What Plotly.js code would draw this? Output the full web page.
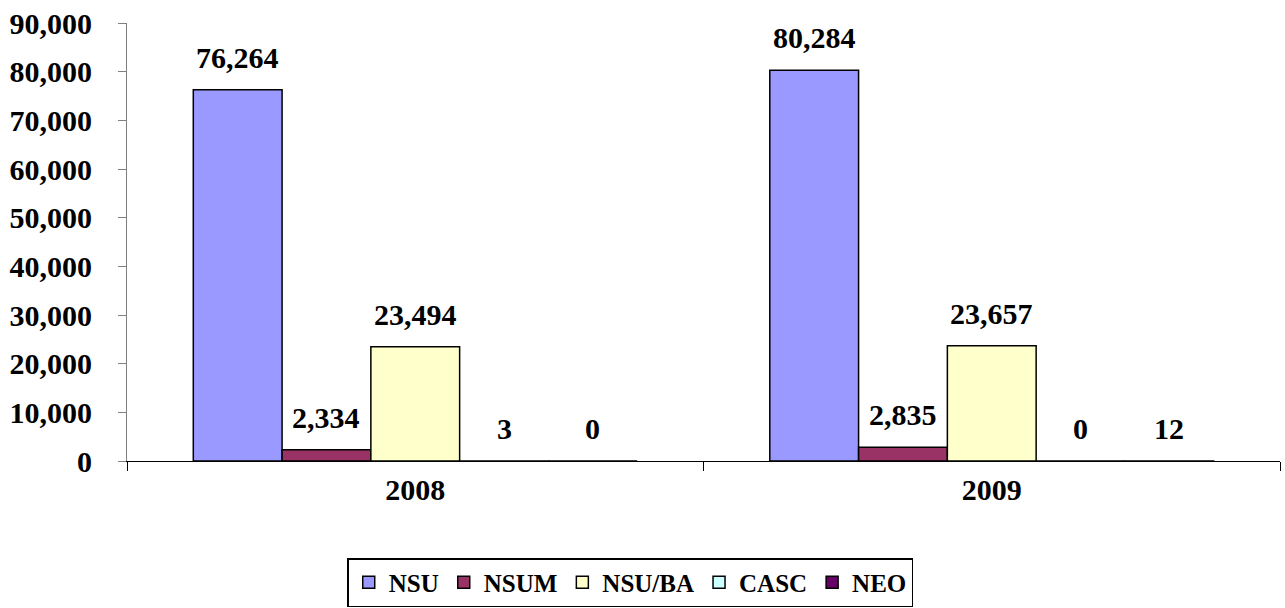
<!DOCTYPE html>
<html>
<head>
<meta charset="utf-8">
<script src="https://cdn.plot.ly/plotly-3.0.1.min.js"></script>
<style>html,body{margin:0;padding:0;background:#fff;}#chart{width:1285px;height:608px;}</style>
</head>
<body>
<div id="chart"></div>
<script>
var categories = ["2008", "2009"];
var seriesNames = ["NSU", "NSUM", "NSU/BA", "CASC", "NEO"];
var NSU = [76264, 80284];
var NSUM = [2334, 2835];
var NSU_BA = [23494, 23657];
var CASC = [3, 0];
var NEO = [0, 12];
var yTicks = [0, 10000, 20000, 30000, 40000, 50000, 60000, 70000, 80000, 90000];
var yTickLabels = ["0", "10,000", "20,000", "30,000", "40,000", "50,000", "60,000", "70,000", "80,000", "90,000"];

var seriesValues = [NSU, NSUM, NSU_BA, CASC, NEO];
var colors = ["#9999FF", "#993366", "#FFFFCC", "#CCFFFF", "#660066"];
var FONT = "Liberation Serif";
var BARGAP = 0.23;
var nS = seriesValues.length;

function fmt(v){ return v.toLocaleString("en-US"); }

var traces = seriesValues.map(function(vals, i){
  return {
    type: "bar",
    name: seriesNames[i],
    x: categories,
    y: vals,
    marker: {color: colors[i], line: {color: "#000", width: 1.5}},
    hoverinfo: "x+y+name"
  };
});

var annotations = [];
seriesValues.forEach(function(vals, i){
  vals.forEach(function(v, j){
    annotations.push({
      xref: "x", yref: "y",
      x: j + (1 - BARGAP) * ((i + 0.5) / nS - 0.5),
      y: v,
      text: fmt(v),
      showarrow: false,
      yanchor: "bottom",
      yshift: 14,
      font: {family: FONT, size: 30, color: "#000", weight: "bold"}
    });
  });
});

var layout = {
  width: 1285, height: 608,
  margin: {l: 127, r: 5, t: 23, b: 147, autoexpand: false},
  paper_bgcolor: "#fff", plot_bgcolor: "#fff",
  barmode: "group",
  bargap: BARGAP,
  bargroupgap: 0,
  font: {family: FONT, color: "#000", weight: "bold"},
  annotations: annotations,
  showlegend: true,
  legend: {
    orientation: "h",
    x: 0.191, xanchor: "left",
    y: -0.2215, yanchor: "top",
    bordercolor: "#000", borderwidth: 1.5,
    font: {family: FONT, size: 25, color: "#000", weight: "bold"},
    traceorder: "normal"
  },
  xaxis: {
    type: "category",
    automargin: false,
    showline: true, linecolor: "#000", linewidth: 1,
    ticks: "outside", tickson: "boundaries", ticklen: 9, tickcolor: "#000", tickwidth: 1,
    ticklabelstandoff: 2,
    tickfont: {family: FONT, size: 30, color: "#000", weight: "bold"},
    showgrid: false, zeroline: false
  },
  yaxis: {
    range: [0, 90000],
    automargin: false,
    tickvals: yTicks, ticktext: yTickLabels,
    showline: true, linecolor: "#808080", linewidth: 1,
    ticks: "outside", ticklen: 8, tickcolor: "#808080",
    ticklabelstandoff: 20,
    tickfont: {family: FONT, size: 30, color: "#000", weight: "bold"},
    showgrid: false, zeroline: false
  }
};

Plotly.newPlot("chart", traces, layout, {displayModeBar: false, staticPlot: true});
</script>
</body>
</html>
